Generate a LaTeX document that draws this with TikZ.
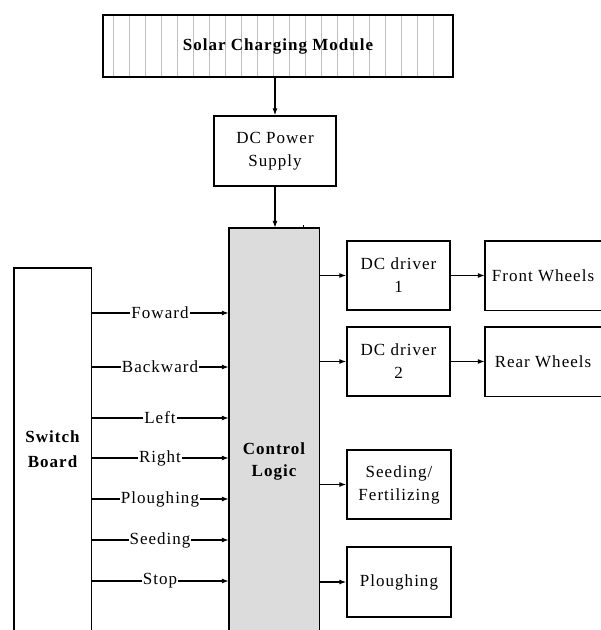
\documentclass[tikz,border=0pt]{standalone}
\usepackage{fontspec}
\setmainfont[LetterSpace=6]{Liberation Serif}
\usetikzlibrary{arrows.meta}
\definecolor{ctrlgray}{RGB}{220,220,220}
\definecolor{stripegray}{RGB}{190,190,190}
\begin{document}
\begin{tikzpicture}[x=1pt,y=-1pt,
  font=\fontsize{17}{23}\selectfont,
  box/.style={draw=black, line width=1.4pt, align=center, inner sep=0pt},
  openbox/.style={align=center, inner sep=0pt},
  border/.style={line width=1.4pt},
  conn/.style={line width=1.1pt, -{Latex[length=7pt,width=5pt]}},
  lbl/.style={fill=white, inner sep=1pt}]
\useasboundingbox (0,0) rectangle (601,630);

% Solar charging module with vertical stripes
\node[box, minimum width=350pt, minimum height=62pt, font=\fontsize{17}{20}\selectfont\bfseries,
  path picture={\foreach \i in {0,...,20}
    \draw[stripegray, line width=1pt]
      ([xshift=10pt+\i*16pt]path picture bounding box.north west) --
      ([xshift=10pt+\i*16pt]path picture bounding box.south west);}]
  (solar) at (278,46) {Solar Charging Module};

\node[box, minimum width=122pt, minimum height=70pt] (dc) at (275,151) {DC Power\\Supply};

% Control logic (open at bottom)
\node[openbox, fill=ctrlgray, minimum width=90pt, minimum height=402pt] (ctrl) at (274,429) {};
\draw[border] (ctrl.south west) -- (ctrl.north west) -- (ctrl.north east) -- (ctrl.south east);
\node[align=center, font=\fontsize{17}{22}\selectfont\bfseries] (ctrltxt) at (274,461) {Control\\Logic};
\draw[line width=0.8pt] (ctrl.north -| 303,0) -- ++(0,-3);

% Switch board (open at bottom)
\node[openbox, minimum width=77pt, minimum height=362pt, font=\fontsize{17}{25}\selectfont\bfseries] (sw) at (52.5,449) {Switch\\Board};
\draw[border] (sw.south west) -- (sw.north west) -- (sw.north east) -- (sw.south east);

% Right side blocks
\node[box, minimum width=103pt, minimum height=69pt] (drv1) at (398.5,275.5) {DC driver\\1};
\node[box, minimum width=103pt, minimum height=69pt] (drv2) at (398.5,361.5) {DC driver\\2};
\node[box, minimum width=104pt, minimum height=69pt] (seed) at (399,484.5) {Seeding/\\Fertilizing};
\node[box, minimum width=104pt, minimum height=70pt] (plough) at (399,582) {Ploughing};

\node[openbox, minimum width=116pt, minimum height=69pt] (front) at (543,275.5) {Front Wheels};
\draw[border] (front.north east) -- (front.north west) -- (front.south west) -- (front.south east);
\node[openbox, minimum width=116pt, minimum height=69pt] (rear) at (543,361.5) {Rear Wheels};
\draw[border] (rear.north east) -- (rear.north west) -- (rear.south west) -- (rear.south east);

% Vertical connectors
\draw[conn] (solar.south -| dc.north) -- (dc.north);
\draw[conn] (dc.south) -- (ctrl.north -| dc.south);

% Switch board inputs
\foreach \yy/\t in {313/Foward, 367/Backward, 418/Left, 458/Right, 499/Ploughing, 540/Seeding, 581/Stop}
  \draw[conn] (sw.east |- 0,\yy) -- node[lbl] {\t} (ctrl.west |- 0,\yy);

% Outputs
\draw[conn] (ctrl.east |- drv1.west) -- (drv1.west);
\draw[conn] (drv1.east) -- (front.west);
\draw[conn] (ctrl.east |- drv2.west) -- (drv2.west);
\draw[conn] (drv2.east) -- (rear.west);
\draw[conn] (ctrl.east |- seed.west) -- (seed.west);
\draw[conn] (ctrl.east |- plough.west) -- (plough.west);
\end{tikzpicture}
\end{document}
